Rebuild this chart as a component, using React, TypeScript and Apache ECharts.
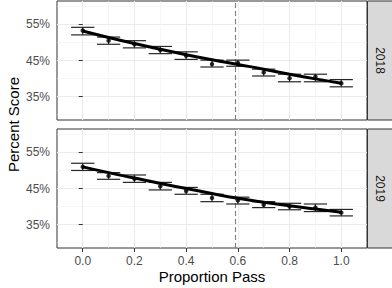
import React, { useEffect, useRef } from "react";
import * as echarts from "echarts";

const xs = [0, 0.1, 0.2, 0.3, 0.4, 0.5, 0.6, 0.7, 0.8, 0.9, 1.0];
const years = ["2018", "2019"];
const pts2018 = [53.3, 50.5, 49.5, 47.9, 46.3, 44.0, 44.3, 41.7, 40.1, 40.5, 38.7];
const lo2018 = [52.1, 49.5, 48.5, 46.9, 45.3, 43.2, 43.4, 40.7, 39.1, 39.1, 37.7];
const hi2018 = [54.2, 51.5, 50.5, 48.9, 47.4, 45.1, 45.1, 42.6, 41.2, 41.2, 39.7];
const fit2018 = [53.2, 51.4, 49.7, 48.1, 46.6, 45.2, 43.9, 42.6, 41.2, 39.9, 38.7];
const pts2019 = [51.0, 48.5, 47.7, 45.6, 44.3, 42.4, 41.7, 40.5, 40.0, 39.7, 38.3];
const lo2019 = [50.0, 47.55, 46.7, 44.6, 43.4, 41.35, 40.7, 39.7, 39.1, 38.6, 37.4];
const hi2019 = [52.0, 49.4, 48.75, 46.7, 45.3, 43.4, 42.6, 41.35, 40.9, 40.7, 39.2];
const fit2019 = [51.0, 49.4, 47.9, 46.4, 45.0, 43.6, 42.3, 41.2, 40.2, 39.3, 38.4];
const bandHalf = [0.6, 0.45, 0.35, 0.3, 0.3, 0.3, 0.3, 0.3, 0.35, 0.45, 0.6];
const cutoff = 0.59;
const xMajor = [0, 0.2, 0.4, 0.6, 0.8, 1.0];
const xMinor = [0.1, 0.3, 0.5, 0.7, 0.9];
const yMajor = [35, 45, 55];
const yMinor = [30, 40, 50, 60];
const errHalf = 0.045;

const FONT = "'Liberation Sans', Arial, Helvetica, sans-serif";

export default function App() {
  const ref = useRef<HTMLDivElement>(null);
  useEffect(() => {
    if (!ref.current) return;
    const chart = echarts.init(ref.current, null, { renderer: "svg" });
    const panels = [
      { pts: pts2018, lo: lo2018, hi: hi2018, fit: fit2018 },
      { pts: pts2019, lo: lo2019, hi: hi2019, fit: fit2019 },
    ];
    const gridTops = [1, 129];
    const gridH = 119;
    const grids = gridTops.map((t) => ({
      left: 57,
      width: 310,
      top: t,
      height: gridH,
      show: true,
      backgroundColor: "#ffffff",
      borderColor: "#333333",
      borderWidth: 1,
      outerBoundsMode: "none",
      containLabel: false,
    }));
    const xAxes: any[] = [];
    const yAxes: any[] = [];
    [0, 1].forEach((g) => {
      xAxes.push({
        type: "value",
        gridIndex: g,
        min: -0.0995,
        max: 1.0995,
        axisLine: { show: false },
        axisTick: {
          show: g === 1,
          customValues: xMajor,
          length: 4,
          lineStyle: { color: "#333333", width: 1 },
        },
        axisLabel: {
          show: g === 1,
          customValues: xMajor,
          formatter: (v: number) => v.toFixed(1),
          color: "#4D4D4D",
          fontSize: 12,
          fontFamily: FONT,
          margin: 7,
        },
        splitLine: { show: true, lineStyle: { color: "#EBEBEB", width: 1.1 } },
        name: g === 1 ? "Proportion Pass" : "",
        nameLocation: "middle",
        nameGap: 21,
        nameTextStyle: { color: "#000000", fontSize: 15, fontFamily: FONT },
      });
      yAxes.push({
        type: "value",
        gridIndex: g,
        min: 28.5,
        max: 61.5,
        axisLine: { show: false },
        axisTick: {
          show: true,
          customValues: yMajor,
          length: 4,
          lineStyle: { color: "#333333", width: 1 },
        },
        axisLabel: {
          show: true,
          customValues: yMajor,
          formatter: (v: number) => v + "%",
          color: "#4D4D4D",
          fontSize: 12,
          fontFamily: FONT,
          margin: 7,
        },
        splitLine: { show: true, lineStyle: { color: "#EBEBEB", width: 1.1 } },
      });
    });
    [0, 1].forEach((g) => {
      xAxes.push({
        type: "value",
        gridIndex: g,
        min: -0.0995,
        max: 1.0995,
        axisLine: { show: false },
        axisTick: { show: false, customValues: xMinor },
        axisLabel: { show: false, customValues: xMinor },
        splitLine: { show: true, lineStyle: { color: "#F2F2F2", width: 0.6 } },
      });
      yAxes.push({
        type: "value",
        gridIndex: g,
        min: 28.5,
        max: 61.5,
        axisLine: { show: false },
        axisTick: { show: false, customValues: yMinor },
        axisLabel: { show: false, customValues: yMinor },
        splitLine: { show: true, lineStyle: { color: "#F2F2F2", width: 0.6 } },
      });
    });

    const series: any[] = [];
    panels.forEach((p, g) => {
      const stackId = "band" + g;
      series.push({
        type: "line",
        xAxisIndex: g,
        yAxisIndex: g,
        stack: stackId,
        smooth: true,
        showSymbol: false,
        silent: true,
        lineStyle: { opacity: 0 },
        data: xs.map((x, i) => [x, p.fit[i] - bandHalf[i]]),
        z: 1,
        markLine: {
          silent: true,
          symbol: "none",
          label: { show: false },
          lineStyle: { color: "#7F7F7F", type: [5, 3], width: 1.1 },
          data: [{ xAxis: cutoff }],
          z: 1,
        },
      });
      series.push({
        type: "line",
        xAxisIndex: g,
        yAxisIndex: g,
        stack: stackId,
        smooth: true,
        showSymbol: false,
        silent: true,
        lineStyle: { opacity: 0 },
        areaStyle: { color: "rgba(153,153,153,0.4)", opacity: 1 },
        data: xs.map((x, i) => [x, 2 * bandHalf[i]]),
        z: 2,
      });
      series.push({
        type: "custom",
        xAxisIndex: g,
        yAxisIndex: g,
        silent: true,
        encode: { x: 0, y: [1, 2] },
        data: xs.map((x, i) => [x, p.lo[i], p.hi[i]]),
        renderItem: (params: any, api: any) => {
          const x = api.value(0);
          const lo = api.value(1);
          const hi = api.value(2);
          const top = api.coord([x, hi]);
          const bot = api.coord([x, lo]);
          const l = api.coord([x - errHalf, hi]);
          const r = api.coord([x + errHalf, hi]);
          const st = { stroke: "#262626", lineWidth: 1.2 };
          return {
            type: "group",
            children: [
              { type: "line", shape: { x1: top[0], y1: top[1], x2: bot[0], y2: bot[1] }, style: st },
              { type: "line", shape: { x1: l[0], y1: top[1], x2: r[0], y2: top[1] }, style: st },
              { type: "line", shape: { x1: l[0], y1: bot[1], x2: r[0], y2: bot[1] }, style: st },
            ],
          };
        },
        z: 3,
      });
      series.push({
        type: "scatter",
        xAxisIndex: g,
        yAxisIndex: g,
        silent: true,
        symbol: "circle",
        symbolSize: 4.5,
        itemStyle: { color: "#000000" },
        data: xs.map((x, i) => [x, p.pts[i]]),
        z: 4,
      });
      series.push({
        type: "line",
        xAxisIndex: g,
        yAxisIndex: g,
        smooth: true,
        showSymbol: false,
        silent: true,
        lineStyle: { color: "#000000", width: 3 },
        data: xs.map((x, i) => [x, p.fit[i]]),
        z: 5,
      });
    });

    const graphic: any[] = [];
    gridTops.forEach((t, g) => {
      graphic.push({
        type: "rect",
        shape: { x: 367.5, y: t, width: 30, height: gridH },
        style: { fill: "#D9D9D9", stroke: "#333333", lineWidth: 1 },
        silent: true,
      });
      graphic.push({
        type: "text",
        x: 380,
        y: t + gridH / 2,
        rotation: -Math.PI / 2,
        style: {
          text: years[g],
          fill: "#1A1A1A",
          fontSize: 12,
          fontFamily: FONT,
          align: "center",
          verticalAlign: "middle",
          textAlign: "center",
          textVerticalAlign: "middle",
        },
        silent: true,
      });
    });
    graphic.push({
      type: "text",
      x: 13,
      y: 124.5,
      rotation: Math.PI / 2,
      style: {
        text: "Percent Score",
        fill: "#000000",
        fontSize: 15,
        fontFamily: FONT,
        align: "center",
        verticalAlign: "middle",
        textAlign: "center",
        textVerticalAlign: "middle",
      },
      silent: true,
    });

    chart.setOption({
      animation: false,
      backgroundColor: "#ffffff",
      grid: grids,
      xAxis: xAxes,
      yAxis: yAxes,
      series,
      graphic,
    });
    return () => chart.dispose();
  }, []);
  return (
    <div
      ref={ref}
      style={{ position: "fixed", left: 0, top: 0, width: 392, height: 288 }}
    />
  );
}
